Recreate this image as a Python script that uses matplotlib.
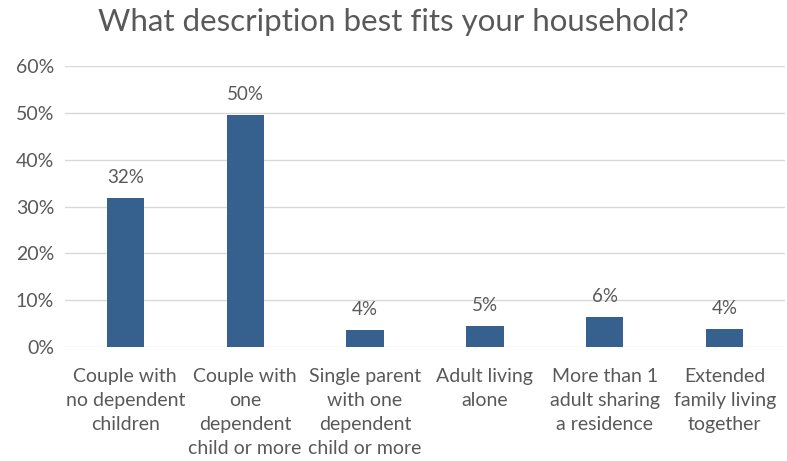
import matplotlib

matplotlib.use("Agg")
import matplotlib.pyplot as plt
from matplotlib.ticker import PercentFormatter

# values (percent of respondents)
categories = [
    "Couple with\nno dependent\nchildren",
    "Couple with\none\ndependent\nchild or more",
    "Single parent\nwith one\ndependent\nchild or more",
    "Adult living\nalone",
    "More than 1\nadult sharing\na residence",
    "Extended\nfamily living\ntogether",
]
shares = [31.8, 49.5, 3.6, 4.5, 6.4, 3.8]
labels = ["32%", "50%", "4%", "5%", "6%", "4%"]

grey = "#595959"
plt.rcParams["font.family"] = ["Lato", "DejaVu Sans"]

fig = plt.figure(figsize=(7.87, 4.61), dpi=100)
ax = fig.add_axes([0.083, 0.247, 0.914, 0.61])

x = range(len(categories))
ax.bar(x, shares, width=0.31, color="#36618F", zorder=3)
for xi, v, lab in zip(x, shares, labels):
    ax.text(xi, v + 2.6, lab, ha="center", va="bottom", fontsize=13.5, color=grey)

ax.set_xlim(-0.5, len(categories) - 0.5)
ax.set_ylim(0, 60)
ax.set_yticks(range(0, 61, 10))
ax.yaxis.set_major_formatter(PercentFormatter(decimals=0))
ax.set_xticks(list(x))
ax.set_xticklabels(categories, fontsize=14, color=grey, linespacing=1.5)
ax.tick_params(axis="y", labelsize=14, labelcolor=grey, length=0, pad=8)
ax.tick_params(axis="x", length=0, pad=15)
ax.grid(axis="y", color="#D9D9D9", lw=1, zorder=0)
for s in ax.spines.values():
    s.set_visible(False)

fig.text(0.5, 0.952, "What description best fits your household?",
         ha="center", va="center", fontsize=22.5, color=grey)

fig.savefig("out.png", dpi=100)
